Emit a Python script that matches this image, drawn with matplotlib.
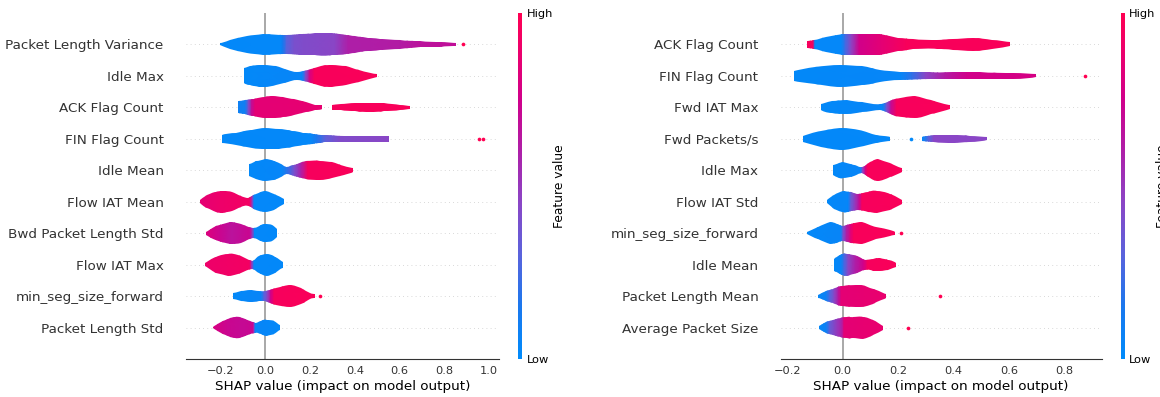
import numpy as np
import matplotlib
matplotlib.use("Agg")
import matplotlib.pyplot as plt
from matplotlib.colors import LinearSegmentedColormap
from matplotlib.path import Path
from matplotlib.patches import PathPatch
from matplotlib.cm import ScalarMappable

# --- feature importance, model A (top to bottom) ---
left_features = ["Packet Length Variance", "Idle Max", "ACK Flag Count", "FIN Flag Count",
                 "Idle Mean", "Flow IAT Mean", "Bwd Packet Length Std", "Flow IAT Max",
                 "min_seg_size_forward", "Packet Length Std"]

# violin outline: shap value knots and half widths (row units), one list per piece
left_shape_x = [
    [[-0.2, -0.158, -0.083, -0.01, 0.08, 0.15, 0.22, 0.3, 0.36, 0.4, 0.46, 0.51, 0.6, 0.69, 0.78, 0.85]],
    [[-0.095, -0.07, -0.03, 0.0, 0.05, 0.1, 0.14, 0.19, 0.25, 0.3, 0.36, 0.42, 0.5]],
    [[-0.122, -0.09, -0.05, 0.0, 0.035, 0.08, 0.13, 0.18, 0.22, 0.252],
     [0.296, 0.34, 0.4, 0.467, 0.53, 0.6, 0.646]],
    [[-0.195, -0.13, -0.06, 0.0, 0.06, 0.12, 0.17, 0.213, 0.25, 0.274, 0.35, 0.45, 0.554]],
    [[-0.071, -0.04, 0.0, 0.04, 0.07, 0.095, 0.13, 0.18, 0.244, 0.3, 0.35, 0.393]],
    [[-0.291, -0.26, -0.22, -0.1875, -0.15, -0.11, -0.076, -0.04, 0.0, 0.04, 0.083]],
    [[-0.265, -0.22, -0.158, -0.11, -0.054, -0.02, 0.0, 0.03, 0.051]],
    [[-0.27, -0.22, -0.165, -0.12, -0.061, -0.03, 0.006, 0.045, 0.078]],
    [[-0.146, -0.11, -0.068, -0.03, 0.0, 0.05, 0.11, 0.16, 0.2, 0.222]],
    [[-0.235, -0.19, -0.135, -0.09, -0.046, -0.02, 0.006, 0.04, 0.066]],
]
left_shape_w = [
    [[0.03, 0.13, 0.26, 0.32, 0.31, 0.32, 0.35, 0.35, 0.31, 0.265, 0.21, 0.18, 0.13, 0.095, 0.07, 0.05]],
    [[0.24, 0.3, 0.34, 0.35, 0.3, 0.18, 0.12, 0.2, 0.32, 0.34, 0.3, 0.18, 0.05]],
    [[0.19, 0.22, 0.28, 0.34, 0.35, 0.32, 0.25, 0.16, 0.09, 0.065],
     [0.08, 0.1, 0.13, 0.145, 0.13, 0.09, 0.05]],
    [[0.13, 0.2, 0.29, 0.335, 0.31, 0.26, 0.2, 0.16, 0.12, 0.11, 0.1, 0.1, 0.095]],
    [[0.19, 0.28, 0.345, 0.3, 0.2, 0.11, 0.18, 0.28, 0.31, 0.25, 0.15, 0.065]],
    [[0.05, 0.2, 0.32, 0.345, 0.3, 0.18, 0.13, 0.25, 0.335, 0.25, 0.08]],
    [[0.05, 0.22, 0.34, 0.3, 0.16, 0.26, 0.29, 0.25, 0.13]],
    [[0.05, 0.25, 0.35, 0.3, 0.13, 0.27, 0.35, 0.25, 0.095]],
    [[0.09, 0.15, 0.19, 0.17, 0.16, 0.27, 0.345, 0.25, 0.1, 0.065]],
    [[0.03, 0.2, 0.345, 0.28, 0.16, 0.22, 0.255, 0.2, 0.07]],
]
# mean feature value along the shap axis (0 = low, 1 = high)
left_color_x = [
    [-0.2, 0.066, 0.08, 0.095, 0.13, 0.17, 0.31, 0.37, 0.6, 0.69, 0.86],
    [-0.1, 0.165, 0.18, 0.2, 0.22, 0.5],
    [-0.125, -0.09, -0.075, -0.06, -0.045, 0.26, 0.29, 0.65],
    [-0.2, 0.2, 0.23, 0.27, 0.33, 0.56],
    [-0.075, 0.075, 0.1, 0.13, 0.16, 0.19, 0.4],
    [-0.295, -0.2, -0.07, -0.058, -0.05, 0.085],
    [-0.27, -0.2, -0.15, -0.07, -0.058, -0.048, 0.055],
    [-0.275, -0.07, -0.06, -0.05, 0.08],
    [-0.15, -0.02, -0.005, 0.01, 0.025, 0.04, 0.23],
    [-0.24, -0.17, -0.1, -0.055, -0.05, -0.045, 0.07],
]
left_color_v = [
    [0.02, 0.03, 0.15, 0.3, 0.4, 0.42, 0.45, 0.6, 0.62, 0.66, 0.68],
    [0.02, 0.05, 0.4, 0.8, 0.96, 0.97],
    [0.08, 0.1, 0.4, 0.7, 0.85, 0.87, 0.95, 0.97],
    [0.02, 0.03, 0.15, 0.32, 0.42, 0.45],
    [0.02, 0.04, 0.2, 0.4, 0.6, 0.95, 0.97],
    [0.85, 0.9, 0.93, 0.5, 0.03, 0.02],
    [0.82, 0.72, 0.66, 0.72, 0.5, 0.03, 0.02],
    [0.9, 0.93, 0.5, 0.03, 0.02],
    [0.02, 0.05, 0.3, 0.45, 0.75, 0.95, 0.97],
    [0.8, 0.72, 0.7, 0.72, 0.5, 0.05, 0.02],
]
# outlying samples drawn as single points
left_dots_row = [0, 3, 3, 8]
left_dots_x = [0.881, 0.952, 0.974, 0.244]
left_dots_v = [1.0, 1.0, 1.0, 1.0]

# --- feature importance, model B ---
right_features = ["ACK Flag Count", "FIN Flag Count", "Fwd IAT Max", "Fwd Packets/s",
                  "Idle Max", "Flow IAT Std", "min_seg_size_forward", "Idle Mean",
                  "Packet Length Mean", "Average Packet Size"]
right_shape_x = [
    [[-0.128, -0.105, -0.06, 0.0, 0.07, 0.135, 0.2, 0.255, 0.34, 0.4, 0.47, 0.54, 0.604]],
    [[-0.175, -0.1, -0.01, 0.07, 0.135, 0.207, 0.315, 0.4, 0.496, 0.616, 0.698]],
    [[-0.08, -0.04, 0.014, 0.07, 0.135, 0.19, 0.26, 0.32, 0.388]],
    [[-0.142, -0.08, -0.004, 0.06, 0.12, 0.171],
     [0.285, 0.33, 0.398, 0.46, 0.52]],
    [[-0.036, -0.015, 0.002, 0.04, 0.069, 0.1, 0.127, 0.17, 0.213]],
    [[-0.058, -0.03, 0.0, 0.03, 0.056, 0.09, 0.123, 0.17, 0.213]],
    [[-0.13, -0.09, -0.046, -0.02, 0.0, 0.03, 0.069, 0.12, 0.171, 0.189]],
    [[-0.031, -0.01, 0.014, 0.05, 0.08, 0.11, 0.135, 0.165, 0.192]],
    [[-0.088, -0.06, -0.035, 0.0, 0.062, 0.1, 0.13, 0.156]],
    [[-0.084, -0.06, -0.035, 0.014, 0.038, 0.074, 0.11, 0.144]],
]
right_shape_w = [
    [[0.12, 0.13, 0.25, 0.32, 0.33, 0.32, 0.22, 0.16, 0.13, 0.17, 0.2, 0.15, 0.065]],
    [[0.16, 0.27, 0.345, 0.3, 0.19, 0.13, 0.11, 0.11, 0.11, 0.095, 0.05]],
    [[0.1, 0.19, 0.22, 0.16, 0.1, 0.26, 0.345, 0.22, 0.06]],
    [[0.1, 0.25, 0.345, 0.27, 0.13, 0.065],
     [0.07, 0.11, 0.13, 0.1, 0.05]],
    [[0.16, 0.23, 0.255, 0.18, 0.1, 0.26, 0.345, 0.22, 0.06]],
    [[0.05, 0.22, 0.335, 0.3, 0.255, 0.32, 0.35, 0.25, 0.065]],
    [[0.03, 0.2, 0.34, 0.3, 0.24, 0.3, 0.34, 0.2, 0.095, 0.05]],
    [[0.19, 0.3, 0.35, 0.26, 0.16, 0.19, 0.2, 0.16, 0.06]],
    [[0.05, 0.16, 0.22, 0.33, 0.35, 0.27, 0.16, 0.065]],
    [[0.06, 0.17, 0.24, 0.345, 0.32, 0.35, 0.24, 0.065]],
]
right_color_x = [
    [-0.13, -0.108, -0.1, -0.005, 0.01, 0.03, 0.06, 0.14, 0.23, 0.61],
    [-0.18, 0.21, 0.25, 0.3, 0.37, 0.45, 0.7],
    [-0.08, 0.145, 0.16, 0.175, 0.195, 0.39],
    [-0.145, 0.29, 0.31, 0.33, 0.52],
    [-0.04, 0.063, 0.072, 0.082, 0.09, 0.215],
    [-0.06, 0.02, 0.03, 0.045, 0.06, 0.07, 0.215],
    [-0.13, -0.008, 0.002, 0.014, 0.03, 0.04, 0.19],
    [-0.035, -0.006, 0.005, 0.02, 0.045, 0.075, 0.09, 0.195],
    [-0.09, -0.06, -0.045, -0.03, -0.015, -0.005, 0.16],
    [-0.085, -0.06, -0.045, -0.02, -0.003, 0.005, 0.145],
]
right_color_v = [
    [0.95, 0.95, 0.03, 0.03, 0.25, 0.45, 0.75, 0.85, 0.96, 0.97],
    [0.02, 0.04, 0.2, 0.45, 0.62, 0.75, 0.78],
    [0.02, 0.05, 0.4, 0.7, 0.95, 0.97],
    [0.02, 0.03, 0.3, 0.45, 0.45],
    [0.02, 0.05, 0.45, 0.8, 0.96, 0.97],
    [0.02, 0.04, 0.35, 0.5, 0.7, 0.95, 0.97],
    [0.02, 0.05, 0.4, 0.6, 0.85, 0.96, 0.97],
    [0.02, 0.05, 0.25, 0.45, 0.6, 0.75, 0.95, 0.97],
    [0.03, 0.08, 0.3, 0.45, 0.65, 0.85, 0.88],
    [0.03, 0.08, 0.35, 0.5, 0.6, 0.85, 0.88],
]
right_dots_row = [1, 3, 6, 8, 9]
right_dots_x = [0.875, 0.246, 0.209, 0.351, 0.237]
right_dots_v = [1.0, 0.02, 1.0, 1.0, 1.0]

# shap red/blue colour map
red_blue = LinearSegmentedColormap.from_list("red_blue", [
    (0.0, "#008bfb"), (0.15, "#1a78ee"), (0.3, "#5a63dc"), (0.45, "#8a46c6"),
    (0.6, "#ae1fa8"), (0.75, "#d0008b"), (0.9, "#ee006a"), (1.0, "#ff0052")])

AXIS_COLOR = "#333333"
LABEL_SIZE = 9.7
TICK_SIZE = 8.2


def bezier_through(pts):
    # Catmull-Rom curve through the knots, written as cubic Bezier segments
    p = np.vstack([pts[0], pts, pts[-1]])
    verts = []
    for i in range(1, len(p) - 2):
        c1 = p[i] + (p[i + 1] - p[i - 1]) / 6
        c2 = p[i + 1] - (p[i + 2] - p[i]) / 6
        verts += [c1, c2, p[i + 1]]
    return verts


def piece_path(xs, ws, y):
    xs = np.asarray(xs, float)
    ws = np.asarray(ws, float)
    top = np.column_stack([xs, y + ws])
    bot = np.column_stack([xs, y - ws])[::-1]
    top_curve = bezier_through(top)
    bot_curve = bezier_through(bot)
    verts = [bot[-1], top[0]] + top_curve + [bot[0]] + bot_curve + [bot[-1]]
    codes = ([Path.MOVETO, Path.LINETO] + [Path.CURVE4] * len(top_curve)
             + [Path.LINETO] + [Path.CURVE4] * len(bot_curve) + [Path.CLOSEPOLY])
    return Path(verts, codes)


def draw_panel(ax, cax, features, shape_x, shape_w, color_x, color_v,
               dots_row, dots_x, dots_v, xlim):
    n = len(features)
    ax.axvline(0, color="#999999", lw=1.2, zorder=1)
    for i in range(n):
        y = n - 1 - i
        ax.axhline(y, color="#cccccc", lw=0.6, dashes=(1, 4), zorder=0)
        path = Path.make_compound_path(*[piece_path(px, pw, y)
                                         for px, pw in zip(shape_x[i], shape_w[i])])
        patch = PathPatch(path, facecolor="none", edgecolor="none")
        ax.add_patch(patch)
        gx, gy = np.meshgrid(color_x[i], [y - 0.5, y + 0.5])
        cv = np.vstack([color_v[i], color_v[i]])
        mesh = ax.pcolormesh(gx, gy, cv, cmap=red_blue, vmin=0, vmax=1,
                             shading="gouraud", zorder=2)
        mesh.set_clip_path(patch)
    for r, dx, dv in zip(dots_row, dots_x, dots_v):
        ax.scatter(dx, n - 1 - r, s=7, color=red_blue(dv), lw=0, zorder=3)

    ax.set_xlim(*xlim)
    ax.set_ylim(-1, n)
    ax.set_yticks(range(n))
    ax.set_yticklabels(features[::-1], fontsize=LABEL_SIZE)
    ax.set_xticks([t for t in np.arange(-0.2, 1.01, 0.2) if xlim[0] <= t <= xlim[1]])
    ax.tick_params("y", length=0, pad=16, labelcolor=AXIS_COLOR)
    ax.tick_params("x", length=0, pad=5, labelsize=TICK_SIZE, labelcolor=AXIS_COLOR)
    for side in ("top", "right", "left"):
        ax.spines[side].set_visible(False)
    ax.spines["bottom"].set_color(AXIS_COLOR)
    ax.set_xlabel("SHAP value (impact on model output)", fontsize=LABEL_SIZE, labelpad=3)

    sm = ScalarMappable(cmap=red_blue)
    sm.set_array([0, 1])
    cb = plt.colorbar(sm, cax=cax, ticks=[0, 1])
    cb.set_ticklabels(["Low", "High"])
    cb.set_label("Feature value", size=8.8, labelpad=0)
    cb.ax.tick_params(labelsize=TICK_SIZE, length=0, pad=3)
    cb.outline.set_visible(False)


fig = plt.figure(figsize=(11.6, 3.97), dpi=100)
bottom, height = 0.0957, 0.8716
ax1 = fig.add_axes([0.1603, bottom, 0.2698, height])
cax1 = fig.add_axes([0.4468, bottom, 0.0035, height])
ax2 = fig.add_axes([0.6730, bottom, 0.2767, height])
cax2 = fig.add_axes([0.9664, bottom, 0.0035, height])

draw_panel(ax1, cax1, left_features, left_shape_x, left_shape_w, left_color_x,
           left_color_v, left_dots_row, left_dots_x, left_dots_v, (-0.354, 1.043))
draw_panel(ax2, cax2, right_features, right_shape_x, right_shape_w, right_color_x,
           right_color_v, right_dots_row, right_dots_x, right_dots_v, (-0.224, 0.935))

fig.savefig("out.png", dpi=100)
